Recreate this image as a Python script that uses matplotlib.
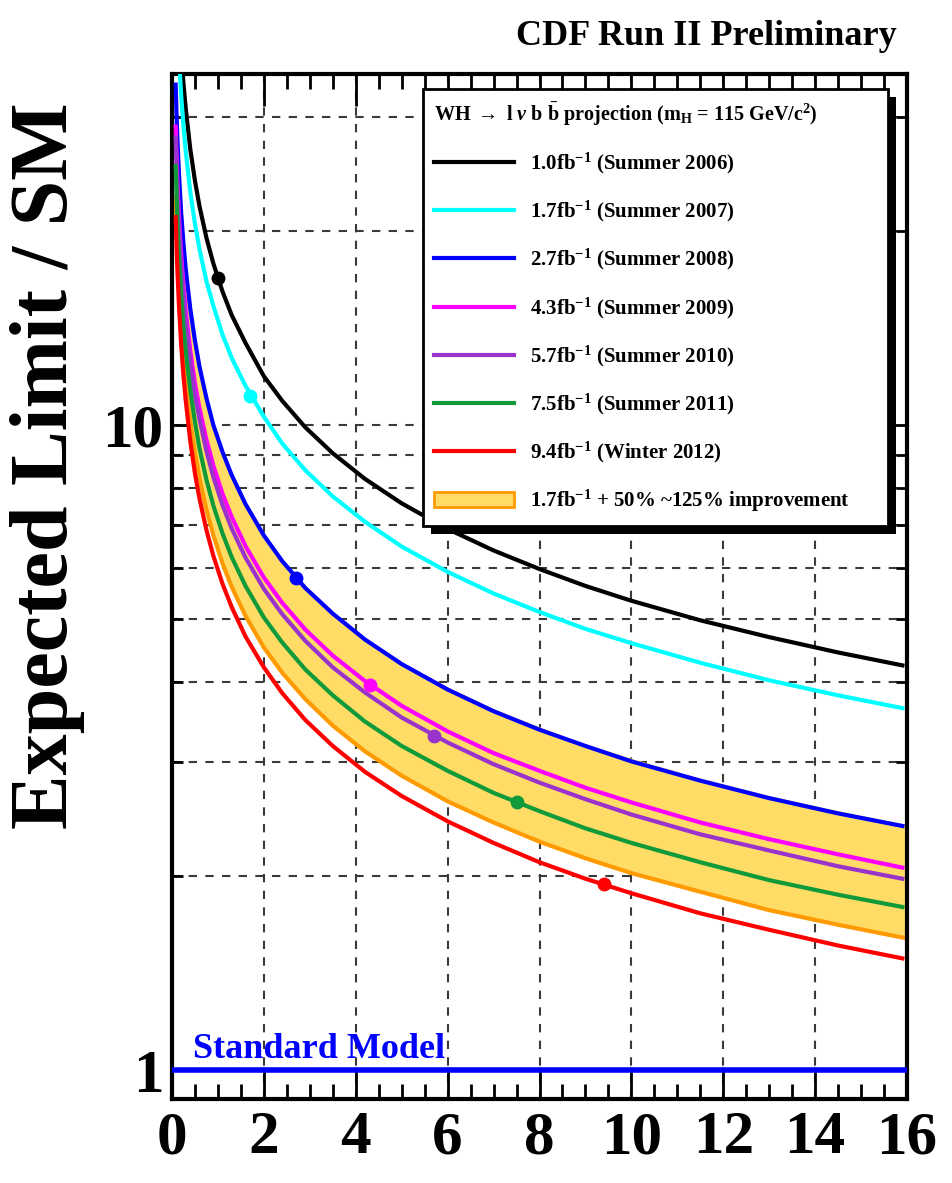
import numpy as np
import matplotlib
matplotlib.use('Agg')
import matplotlib.pyplot as plt
from matplotlib.patches import Patch, Rectangle
from matplotlib.transforms import IdentityTransform
from matplotlib.ticker import MultipleLocator, FixedLocator, FixedFormatter, NullFormatter

plt.rcParams['font.family'] = ['Liberation Serif', 'DejaVu Serif']
plt.rcParams['font.weight'] = 'bold'
plt.rcParams['mathtext.fontset'] = 'custom'
plt.rcParams['mathtext.rm'] = 'Liberation Serif:bold'
plt.rcParams['mathtext.it'] = 'Liberation Serif:italic:bold'
plt.rcParams['mathtext.bf'] = 'Liberation Serif:bold'

# integrated luminosity (fb^-1) where the projections are sampled
lumi = [0.08, 0.1, 0.12, 0.15, 0.2, 0.25, 0.3, 0.4, 0.5, 0.6, 0.75, 0.9, 1.1, 1.3, 1.6,
        2.0, 2.4, 2.9, 3.5, 4.2, 5.0, 6.0, 7.0, 8.0, 9.0, 10.0, 11.5, 13.0, 14.5, 15.9]

# expected limit / SM for each analysis round
lim_2006 = [59.8, 53.4, 48.8, 43.6, 37.8, 33.8, 30.9, 26.7, 23.9, 21.8, 19.5, 17.8, 16.1, 14.8, 13.4,
            11.9, 10.9, 9.92, 9.04, 8.25, 7.56, 6.90, 6.39, 5.98, 5.63, 5.34, 4.98, 4.69, 4.44, 4.24]
lim_2007 = [51.3, 45.9, 41.9, 37.4, 32.4, 29.0, 26.5, 22.9, 20.5, 18.7, 16.7, 15.3, 13.8, 12.7, 11.5,
            10.3, 9.36, 8.51, 7.75, 7.08, 6.48, 5.92, 5.48, 5.13, 4.83, 4.59, 4.28, 4.02, 3.81, 3.64]
lim_2008 = [33.7, 30.1, 27.5, 24.6, 21.3, 19.1, 17.4, 15.1, 13.5, 12.3, 11.0, 10.0, 9.08, 8.36, 7.54,
            6.74, 6.15, 5.59, 5.10, 4.65, 4.26, 3.89, 3.60, 3.37, 3.18, 3.01, 2.81, 2.64, 2.50, 2.39]
lim_2009 = [29.0, 26.0, 23.7, 21.2, 18.4, 16.4, 15.0, 13.0, 11.6, 10.6, 9.48, 8.65, 7.82, 7.20, 6.49,
            5.80, 5.30, 4.82, 4.39, 4.01, 3.67, 3.35, 3.10, 2.91, 2.74, 2.60, 2.42, 2.28, 2.16, 2.06]
lim_2010 = [27.9, 24.9, 22.7, 20.3, 17.6, 15.8, 14.4, 12.5, 11.1, 10.2, 9.10, 8.31, 7.51, 6.91, 6.23,
            5.57, 5.09, 4.63, 4.21, 3.85, 3.52, 3.22, 2.98, 2.79, 2.63, 2.49, 2.32, 2.19, 2.07, 1.98]
lim_2011 = [25.2, 22.5, 20.6, 18.4, 15.9, 14.2, 13.0, 11.3, 10.1, 9.19, 8.22, 7.50, 6.79, 6.24, 5.63,
            5.03, 4.60, 4.18, 3.81, 3.47, 3.18, 2.91, 2.69, 2.52, 2.37, 2.25, 2.10, 1.97, 1.87, 1.79]
lim_2012 = [21.0, 18.8, 17.2, 15.4, 13.3, 11.9, 10.9, 9.41, 8.41, 7.68, 6.87, 6.27, 5.67, 5.22, 4.70,
            4.21, 3.84, 3.49, 3.18, 2.90, 2.66, 2.43, 2.25, 2.10, 1.98, 1.88, 1.75, 1.65, 1.56, 1.49]

# 1.7 fb^-1 result with 50% .. 125% improvement
band_lumi = [0.08, 0.1, 0.12, 0.15, 0.2, 0.25, 0.3, 0.4, 0.5, 0.6, 0.75, 0.9, 1.1, 1.3, 1.6,
             2.0, 2.4, 2.9, 3.5, 4.2, 5.0, 6.0, 7.0, 8.0, 9.0, 10.0, 11.5, 13.0, 14.5, 16.0]
band_hi = [33.9, 30.4, 27.7, 24.8, 21.5, 19.2, 17.5, 15.2, 13.6, 12.4, 11.1, 10.1, 9.15, 8.42, 7.59,
           6.79, 6.19, 5.64, 5.14, 4.68, 4.29, 3.92, 3.63, 3.40, 3.20, 3.04, 2.83, 2.66, 2.52, 2.40]
band_lo = [22.6, 20.2, 18.5, 16.5, 14.3, 12.8, 11.7, 10.1, 9.05, 8.26, 7.39, 6.75, 6.10, 5.61, 5.06,
           4.52, 4.13, 3.76, 3.42, 3.12, 2.86, 2.61, 2.42, 2.26, 2.13, 2.02, 1.89, 1.77, 1.68, 1.60]

# luminosity actually analysed in each round and its expected limit
point_lumi = [1.0, 1.7, 2.7, 4.3, 5.7, 7.5, 9.4]
point_limit = [16.9, 11.1, 5.80, 3.96, 3.30, 2.60, 1.94]

labels = ['1.0fb$^{-1}$ (Summer 2006)', '1.7fb$^{-1}$ (Summer 2007)', '2.7fb$^{-1}$ (Summer 2008)',
          '4.3fb$^{-1}$ (Summer 2009)', '5.7fb$^{-1}$ (Summer 2010)', '7.5fb$^{-1}$ (Summer 2011)',
          '9.4fb$^{-1}$ (Winter 2012)']
colors = ['#000000', '#00ffff', '#0000ff', '#ff00ff', '#9933cc', '#119a3a', '#ff0000']
curves = [lim_2006, lim_2007, lim_2008, lim_2009, lim_2010, lim_2011, lim_2012]

sm_limit = 1.0

fig = plt.figure(figsize=(9.52, 11.83), dpi=100)
ax = fig.add_axes([172 / 952, 84 / 1183, 735 / 952, 1025 / 1183])

ax.fill_between(band_lumi, band_lo, band_hi, facecolor='#ffdc66', edgecolor='none', zorder=2)
ax.plot(band_lumi, band_lo, color='#ff9a00', lw=3, zorder=2.5)

handles = []
for c, col, lab in zip(curves, colors, labels):
    h, = ax.plot(lumi, c, color=col, lw=3, label=lab, zorder=3)
    handles.append(h)
for x, y, col in zip(point_lumi, point_limit, colors):
    ax.plot(x, y, 'o', color=col, ms=9, zorder=4)

handles.append(Patch(facecolor='#ffdc66', edgecolor='#ff9a00', lw=2,
                     label='1.7fb$^{-1}$ + 50% ~125% improvement'))

ax.axhline(sm_limit, color='#0000ff', lw=4, zorder=3)
ax.text(0.45, 1.045, 'Standard Model', color='#0000ff', fontsize=26, va='baseline')

ax.set_xlim(0, 16)
ax.set_yscale('log')
ax.set_ylim(0.902, 35)

ax.xaxis.set_major_locator(MultipleLocator(2))
ax.xaxis.set_minor_locator(MultipleLocator(0.5))
ax.yaxis.set_major_locator(FixedLocator([1, 10]))
ax.yaxis.set_major_formatter(FixedFormatter(['1', '10']))
ax.yaxis.set_minor_locator(FixedLocator([2, 3, 4, 5, 6, 7, 8, 9, 20, 30]))
ax.yaxis.set_minor_formatter(NullFormatter())

ax.tick_params(which='both', direction='in', top=True, right=True, width=2, color='black')
ax.tick_params(axis='x', which='major', length=23, labelsize=44, pad=8)
ax.tick_params(axis='x', which='minor', length=11)
ax.tick_params(axis='y', which='major', length=12, labelsize=44, pad=6)
ax.tick_params(axis='y', which='minor', length=8)
for s in ax.spines.values():
    s.set_linewidth(3)

ax.set_axisbelow(True)
ax.grid(True, which='major', axis='x', color='#3a3a3a', ls=(0, (4, 4)), lw=1.5)
ax.grid(True, which='both', axis='y', color='#3a3a3a', ls=(0, (4, 4)), lw=1.5)

leg = ax.legend(handles=handles, loc='upper left', mode='expand',
                bbox_to_anchor=(423 / 952, 0, 465 / 952, 1 - 89 / 1183),
                bbox_transform=fig.transFigure, borderaxespad=0,
                title=r'WH $\rightarrow$ l $\nu$ b $\bar{\rm b}$ projection (m$_{\rm H}$ = 115 GeV/c$^{2}$)',
                title_fontsize=14.5, alignment='left', fontsize=15,
                handlelength=3.8, handletextpad=0.8, borderpad=0.55, labelspacing=1.1,
                fancybox=False, framealpha=1, edgecolor='black')
leg.get_frame().set_linewidth(2)
leg.set_zorder(6)

fig.text(897 / 952, 1 - 45 / 1183, 'CDF Run II Preliminary', ha='right', va='baseline', fontsize=26)
fig.text(48 / 952, 1 - 466 / 1183, 'Expected Limit / SM', rotation=90, ha='center', va='center', fontsize=59)

# drop shadow under the legend box
fig.canvas.draw()
bb = leg.get_window_extent()
ax.add_patch(Rectangle((bb.x0 + 8, bb.y0 - 8), bb.width, bb.height, transform=IdentityTransform(),
                       facecolor='black', edgecolor='none', zorder=5.5, clip_on=False))

fig.savefig('out.png', dpi=100)
